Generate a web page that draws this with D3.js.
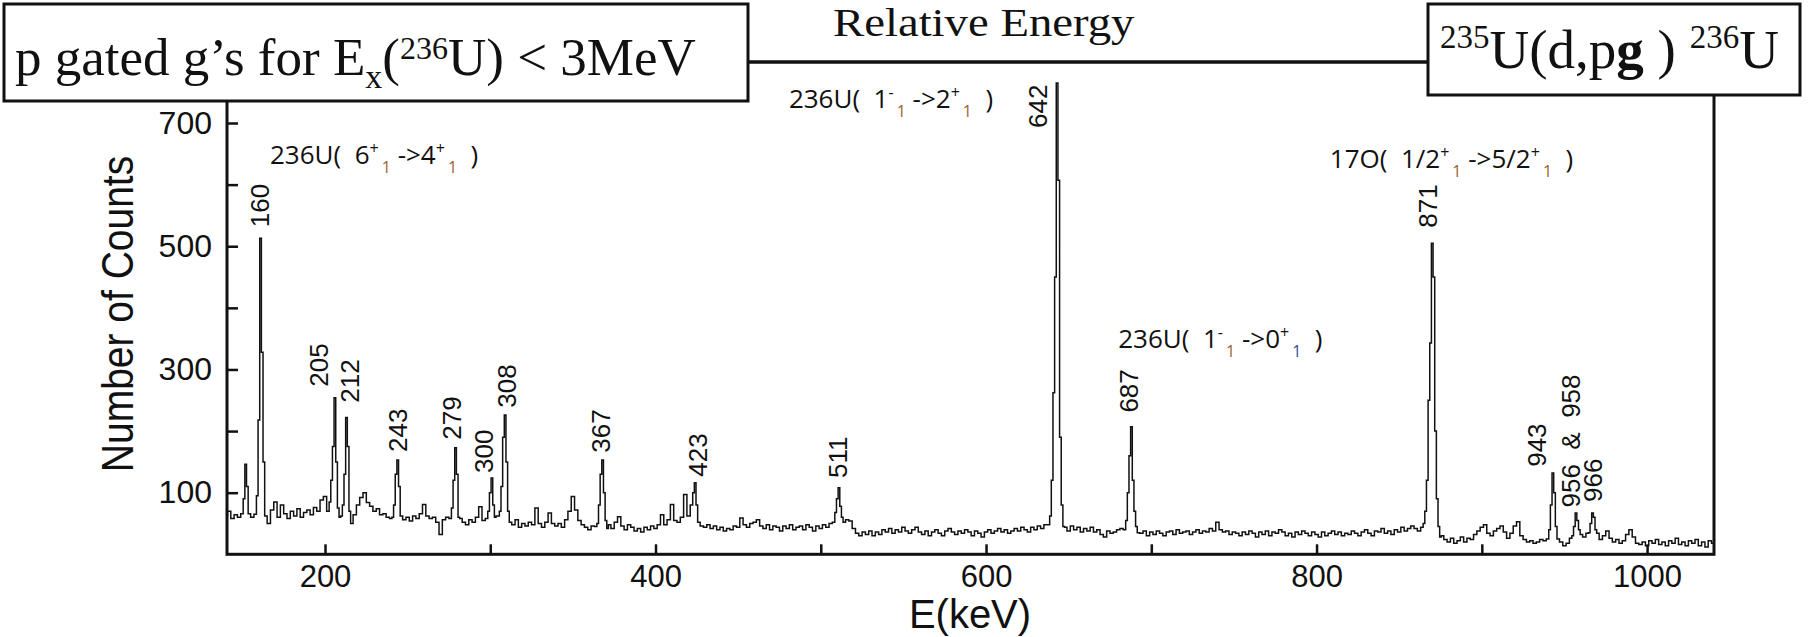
<!DOCTYPE html>
<html>
<head>
<meta charset="utf-8">
<script src="https://cdn.jsdelivr.net/npm/d3@7"></script>
<style>
  body { margin: 0; background: #fff; }
  svg { display: block; }
</style>
</head>
<body>
<div class="root"></div>
<script>
var width = 1810,
    height = 637;

// gamma spectrum background, 2 keV bins from 140 keV
var bgStart = 140, bgStep = 2;
var background = [
  62, 70, 58, 64, 60, 75, 140, 62, 60, 80, 500, 120, 55, 50, 72, 85, 60, 80, 66, 58,   // 140
  70, 62, 74, 60, 68, 72, 64, 76, 70, 88, 94, 70, 150, 250, 62, 65, 200, 120, 52, 64,  // 180
  80, 92, 100, 84, 78, 70, 74, 64, 66, 60, 58, 80, 150, 62, 56, 60, 54, 62, 58, 66,    // 220
  81, 62, 58, 60, 52, 32, 56, 60, 58, 150, 120, 58, 52, 48, 56, 52, 60, 77, 55, 58,    // 260
  110, 80, 62, 180, 220, 100, 54, 48, 56, 44, 50, 46, 52, 48, 75, 50, 44, 52, 67, 50,  // 300
  46, 50, 44, 56, 70, 94, 72, 55, 48, 44, 40, 46, 42, 100, 150, 70, 48, 42, 52, 61,    // 340
  46, 40, 48, 44, 38, 42, 36, 44, 40, 46, 42, 48, 64, 48, 56, 81, 55, 52, 60, 97,      // 380
  62, 80, 116, 55, 46, 44, 48, 42, 46, 40, 44, 38, 42, 40, 46, 44, 59, 48, 44, 50,     // 420
  52, 56, 46, 42, 48, 40, 46, 44, 38, 46, 42, 48, 40, 44, 46, 40, 48, 44, 38, 46,      // 460
  42, 48, 44, 50, 70, 108, 70, 50, 56, 54, 42, 34, 30, 36, 32, 38, 30, 36, 32, 40,     // 500
  36, 42, 34, 40, 36, 44, 38, 34, 40, 44, 36, 32, 38, 30, 36, 40, 34, 30, 38, 42,      // 540
  36, 32, 38, 34, 40, 36, 30, 38, 34, 28, 36, 40, 34, 38, 42, 36, 40, 34, 38, 42,      // 580
  38, 44, 40, 36, 44, 40, 46, 42, 48, 60, 300, 700, 400, 80, 44, 38, 46, 40, 44, 36,   // 620
  42, 38, 44, 36, 40, 32, 28, 38, 34, 36, 40, 42, 50, 150, 120, 50, 40, 34, 38, 30,    // 660
  36, 32, 38, 34, 30, 36, 38, 32, 40, 34, 36, 38, 32, 36, 40, 34, 38, 36, 42, 38,      // 700
  52, 40, 36, 38, 32, 36, 34, 30, 36, 32, 38, 34, 28, 36, 32, 38, 30, 36, 34, 40,      // 740
  36, 30, 34, 28, 36, 32, 38, 34, 30, 36, 32, 28, 36, 30, 34, 38, 32, 36, 30, 34,      // 780
  32, 38, 34, 30, 36, 40, 34, 30, 38, 36, 42, 34, 38, 32, 40, 36, 44, 38, 42, 46,      // 820
  42, 38, 44, 180, 400, 500, 260, 60, 30, 24, 20, 26, 18, 22, 28, 20, 26, 24, 32, 38,  // 860
  44, 48, 34, 30, 38, 42, 46, 36, 26, 34, 46, 53, 30, 24, 20, 22, 18, 20, 24, 22,      // 900
  25, 130, 60, 25, 20, 14, 18, 26, 60, 50, 32, 28, 34, 60, 40, 34, 24, 30, 38, 26,     // 940
  20, 24, 18, 22, 32, 40, 28, 18, 16, 20, 14, 22, 18, 24, 16, 20, 14, 22, 18, 26,      // 980
  16, 20, 14, 22, 18, 24, 14, 20, 12, 22, 18                                           // 1020
];

// peak regions at 1 keV per bin: first channel and counts
var peakStart = [150, 158, 202, 210, 241, 276, 298, 305, 364, 422, 508, 638, 684, 865, 940, 955, 965];
var peakCounts = [
  [66, 90, 146, 110, 66],
  [65, 95, 218, 513, 328, 150, 62],
  [70, 85, 120, 175, 254, 150, 75, 60],
  [62, 80, 130, 222, 175, 70, 50],
  [60, 80, 130, 153, 110, 62],
  [58, 75, 120, 173, 130, 60],
  [58, 70, 100, 124, 80, 60],
  [62, 70, 110, 190, 226, 150, 70, 52],
  [45, 50, 80, 130, 153, 100, 55, 42],
  [80, 100, 116, 80, 52],
  [52, 68, 90, 108, 78, 60, 52],
  [48, 62, 120, 262, 450, 765, 607, 190, 80, 45],
  [40, 55, 100, 160, 207, 120, 70, 45, 35],
  [50, 70, 120, 250, 343, 505, 450, 200, 90, 45, 28],
  [25, 40, 80, 132, 100, 45, 25],
  [30, 45, 67, 55, 40],
  [35, 50, 67, 60, 40]
];

var xTicks = [200, 300, 400, 500, 600, 700, 800, 900, 1000],
    xLabels = [200, 400, 600, 800, 1000],
    yTicks = [100, 200, 300, 400, 500, 600, 700],
    yLabels = [100, 300, 500, 700];

// energy labels above the peaks (text, energy, counts where the text starts)
var peakLabels = ["160", "205", "212", "243", "279", "300", "308", "367", "423", "511", "642", "687", "871", "943", "956  &  958", "966"],
    peakLabelE = [160.3, 196.2, 215.1, 244.1, 276.5, 296.1, 310, 366.9, 425.5, 510, 631, 686.4, 867.2, 933.4, 953.6, 967.1],
    peakLabelC = [531, 272, 246, 166, 186, 132, 238, 165, 126, 124, 692, 230, 530, 142, 76, 85];

// transition notes: [text, kind]
var notes = [
  [["236U(  6", ""], ["+", "sup"], ["1", "sub"], [" ->4", ""], ["+", "sup"], ["1", "sub"], ["  )", ""]],
  [["236U(  1", ""], ["-", "sup"], ["1", "sub"], [" ->2", ""], ["+", "sup"], ["1", "sub"], ["  )", ""]],
  [["17O(  1/2", ""], ["+", "sup"], ["1", "sub"], [" ->5/2", ""], ["+", "sup"], ["1", "sub"], ["  )", ""]],
  [["236U(  1", ""], ["-", "sup"], ["1", "sub"], [" ->0", ""], ["+", "sup"], ["1", "subb"], ["  )", ""]]
];
var noteE = [166.7, 480.7, 808, 680],
    noteC = [633, 724, 627, 335];

var plot = {left: 227, right: 1714, top: 62, bottom: 554.3};

var x = d3.scaleLinear()
          .domain([140.7, 1040.5])
          .range([plot.left, plot.right]);

var y = d3.scaleLinear()
          .domain([0, 799])
          .range([plot.bottom, plot.top]);

// merge background and peak bins into one sorted series
var spectrum = [];
background.forEach(function(c, i) {
  var e = bgStart + i * bgStep;
  var inPeak = peakStart.some(function(s, k) {
    return e >= s && e <= s + peakCounts[k].length - 1;
  });
  if (!inPeak) spectrum.push([e, c]);
});
peakStart.forEach(function(s, k) {
  peakCounts[k].forEach(function(c, j) { spectrum.push([s + j, c]); });
});
spectrum.sort(function(a, b) { return a[0] - b[0]; });

var svg = d3.select(".root")
          .append("svg")
          .attr("width", width)
          .attr("height", height);

svg.append("clipPath")
    .attr("id", "clip")
  .append("rect")
    .attr("x", plot.left)
    .attr("y", plot.top)
    .attr("width", plot.right - plot.left)
    .attr("height", plot.bottom - plot.top);

var line = d3.line()
          .x(function(d) { return x(d[0]); })
          .y(function(d) { return y(d[1]); })
          .curve(d3.curveStep);

svg.append("path")
    .datum(spectrum)
    .attr("clip-path", "url(#clip)")
    .attr("d", line)
    .attr("fill", "none")
    .attr("stroke", "#111")
    .attr("stroke-width", 1.5);

// frame
svg.append("rect")
    .attr("x", plot.left)
    .attr("y", plot.top)
    .attr("width", plot.right - plot.left)
    .attr("height", plot.bottom - plot.top)
    .attr("fill", "none")
    .attr("stroke", "#111")
    .attr("stroke-width", 3);

var axisFont = "'Liberation Sans', Arial, Helvetica, sans-serif";

var gx = svg.append("g")
    .attr("transform", "translate(0," + plot.bottom + ")")
    .call(d3.axisBottom(x)
      .tickValues(xTicks)
      .tickSize(-10)
      .tickSizeOuter(0)
      .tickPadding(11)
      .tickFormat(function(d) { return xLabels.indexOf(d) >= 0 ? d : ""; }));
gx.select(".domain").remove();
gx.selectAll("line").attr("stroke", "#111").attr("stroke-width", 2.5);
gx.selectAll("text")
    .attr("font-family", axisFont)
    .attr("font-size", 31)
    .attr("fill", "#111");

var gy = svg.append("g")
    .attr("transform", "translate(" + plot.left + ",0)")
    .call(d3.axisLeft(y)
      .tickValues(yTicks)
      .tickSize(-11)
      .tickSizeOuter(0)
      .tickPadding(15)
      .tickFormat(function(d) { return yLabels.indexOf(d) >= 0 ? d : ""; }));
gy.select(".domain").remove();
gy.selectAll("line").attr("stroke", "#111").attr("stroke-width", 2.5);
gy.selectAll("text")
    .attr("font-family", axisFont)
    .attr("font-size", 32)
    .attr("fill", "#111");

svg.append("text")
    .attr("x", 970)
    .attr("y", 628)
    .attr("text-anchor", "middle")
    .attr("font-family", axisFont)
    .attr("font-size", 40)
    .attr("fill", "#111")
    .text("E(keV)");

svg.append("text")
    .attr("transform", "translate(133,314) rotate(-90) scale(1,1.12)")
    .attr("text-anchor", "middle")
    .attr("font-family", axisFont)
    .attr("font-size", 39)
    .attr("fill", "#111")
    .text("Number of Counts");

// peak energy labels
svg.append("g").selectAll("text")
    .data(peakLabels)
  .enter().append("text")
    .attr("transform", function(d, i) {
      return "translate(" + x(peakLabelE[i]) + "," + y(peakLabelC[i]) + ") rotate(-90)";
    })
    .attr("dy", "0.36em")
    .attr("font-family", axisFont)
    .attr("font-size", 26)
    .attr("fill", "#111")
    .style("white-space", "pre")
    .text(function(d) { return d; });

// transition notes
var noteFont = "'Open Sans', 'Noto Sans', sans-serif";
notes.forEach(function(parts, i) {
  var t = svg.append("text")
      .attr("x", x(noteE[i]))
      .attr("y", y(noteC[i]))
      .attr("font-family", noteFont)
      .attr("font-size", 26)
      .attr("fill", "#111")
      .style("white-space", "pre");
  var shift = 0;
  parts.forEach(function(p) {
    var isSub = p[1] === "sub" || p[1] === "subb";
    var target = p[1] === "sup" ? -10 : isSub ? 9 : 0;
    var ts = t.append("tspan")
        .attr("dy", target - shift)
        .text(p[0]);
    if (p[1]) ts.attr("font-size", 16);
    if (isSub) ts.attr("dx", 3);
    if (p[1] === "sub") ts.attr("fill", "#9a6330");
    if (p[1] === "subb") ts.attr("fill", "#2f4f9e");
    shift = target;
  });
});

// title boxes and connecting line
var serif = "'Liberation Serif', 'Times New Roman', serif";

svg.append("line")
    .attr("x1", 748).attr("x2", 1428)
    .attr("y1", plot.top).attr("y2", plot.top)
    .attr("stroke", "#111")
    .attr("stroke-width", 3);

svg.append("text")
    .attr("transform", "translate(833,36) scale(1.14,1)")
    .attr("font-family", serif)
    .attr("font-size", 41)
    .attr("fill", "#111")
    .text("Relative Energy");

svg.append("rect")
    .attr("x", 4).attr("y", 4)
    .attr("width", 744).attr("height", 97)
    .attr("fill", "#fff")
    .attr("stroke", "#111")
    .attr("stroke-width", 3);

var left = svg.append("text")
    .attr("x", 15)
    .attr("y", 75)
    .attr("font-family", serif)
    .attr("font-size", 53)
    .attr("fill", "#111")
    .style("white-space", "pre");
left.append("tspan").text("p gated g\u2019s for E");
left.append("tspan").attr("font-size", 34).attr("dy", 13).text("x");
left.append("tspan").attr("dy", -13).text("(");
left.append("tspan").attr("font-size", 32).attr("dy", -16).text("236");
left.append("tspan").attr("dy", 16).text("U) < 3MeV");

svg.append("rect")
    .attr("x", 1428).attr("y", 4)
    .attr("width", 372).attr("height", 91)
    .attr("fill", "#fff")
    .attr("stroke", "#111")
    .attr("stroke-width", 3);

var right = svg.append("text")
    .attr("x", 1440)
    .attr("y", 68)
    .attr("font-family", serif)
    .attr("font-size", 55)
    .attr("fill", "#111")
    .style("white-space", "pre");
right.append("tspan").attr("font-size", 33).attr("dy", -20).text("235");
right.append("tspan").attr("dy", 20).text("U(d,p");
right.append("tspan").attr("font-weight", "bold").text("g");
right.append("tspan").text(" ) ");
right.append("tspan").attr("font-size", 33).attr("dy", -20).text("236");
right.append("tspan").attr("dy", 20).text("U");
</script>
</body>
</html>
